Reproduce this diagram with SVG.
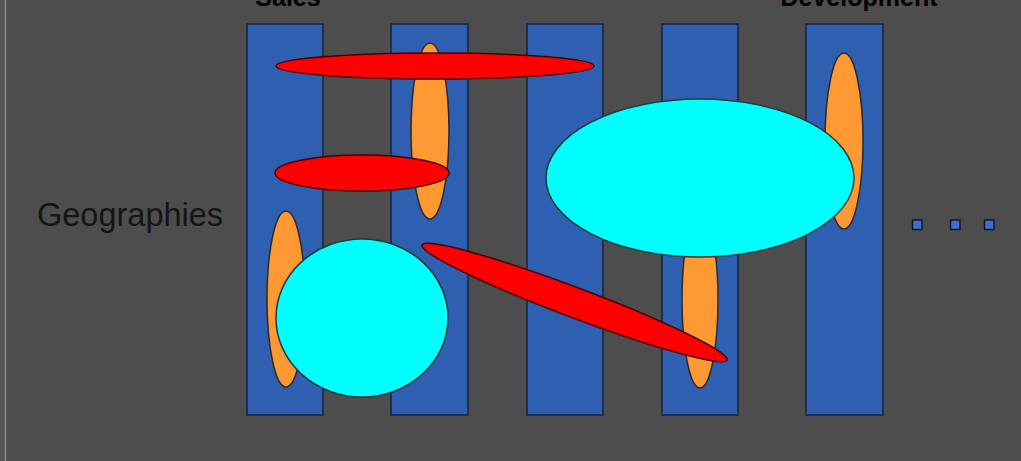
<svg xmlns="http://www.w3.org/2000/svg" width="1021" height="461" viewBox="0 0 1021 461">
<style>
.bar{fill:#2f5fb0;stroke:#15233a;stroke-width:1.5}
.or{fill:#ff9933;stroke:#2a2a2a;stroke-width:1.5}
.rd{fill:#ff0000;stroke:#4a0000;stroke-width:1.5}
.cy{fill:#00ffff;stroke:#1f3a3a;stroke-width:1.5}
.hdr{font-family:"Liberation Sans",Arial,sans-serif;font-weight:bold;font-size:25px;fill:#000;text-anchor:middle}
.lbl{font-family:"Liberation Sans",Arial,sans-serif;font-size:32.5px;fill:#151515}
.dot{fill:#3a6fd0;stroke:#101828;stroke-width:1.5}
</style>
<rect x="0" y="0" width="1021" height="461" fill="#4d4d4d"/>
<rect x="0" y="0" width="5" height="461" fill="#555"/>
<line x1="5.5" y1="0" x2="5.5" y2="461" stroke="#a0a0a0" stroke-width="1"/>
<g id="headers">
<text class="hdr" x="288" y="6">Sales</text>
<text class="hdr" x="859" y="6">Development</text>
</g>
<g id="label-geographies"><text class="lbl" x="37" y="226">Geographies</text></g>
<g id="bars">
<rect id="bar1" class="bar" x="247" y="24" width="76" height="391"/>
<rect id="bar2" class="bar" x="391" y="24" width="77" height="391"/>
<rect id="bar3" class="bar" x="527" y="24" width="76" height="391"/>
<rect id="bar4" class="bar" x="662" y="24" width="76" height="391"/>
<rect id="bar5" class="bar" x="806" y="24" width="77" height="391"/>
</g>
<g id="shapes">
<ellipse id="orange2" class="or" cx="430" cy="131" rx="19" ry="88"/>
<ellipse id="red-top" class="rd" cx="435" cy="66" rx="159" ry="13"/>
<ellipse id="red-mid" class="rd" cx="362" cy="173" rx="87" ry="18"/>
<ellipse id="orange1" class="or" cx="286" cy="299" rx="19" ry="88"/>
<ellipse id="cyan-circle" class="cy" cx="362" cy="318" rx="86" ry="79"/>
<ellipse id="orange4" class="or" cx="700" cy="300" rx="18" ry="88"/>
<ellipse id="orange5" class="or" cx="844" cy="141" rx="19" ry="88"/>
<ellipse id="cyan-big" class="cy" cx="700" cy="178" rx="154" ry="79"/>
<ellipse id="red-diag" class="rd" cx="574.5" cy="302.5" rx="163" ry="15" transform="rotate(20.66 574.5 302.5)"/>
</g>
<g id="ellipsis-dots">
<rect class="dot" x="912.5" y="220" width="9.5" height="9.5"/>
<rect class="dot" x="950.5" y="220" width="9.5" height="9.5"/>
<rect class="dot" x="984.5" y="220" width="9.5" height="9.5"/>
</g>
</svg>
